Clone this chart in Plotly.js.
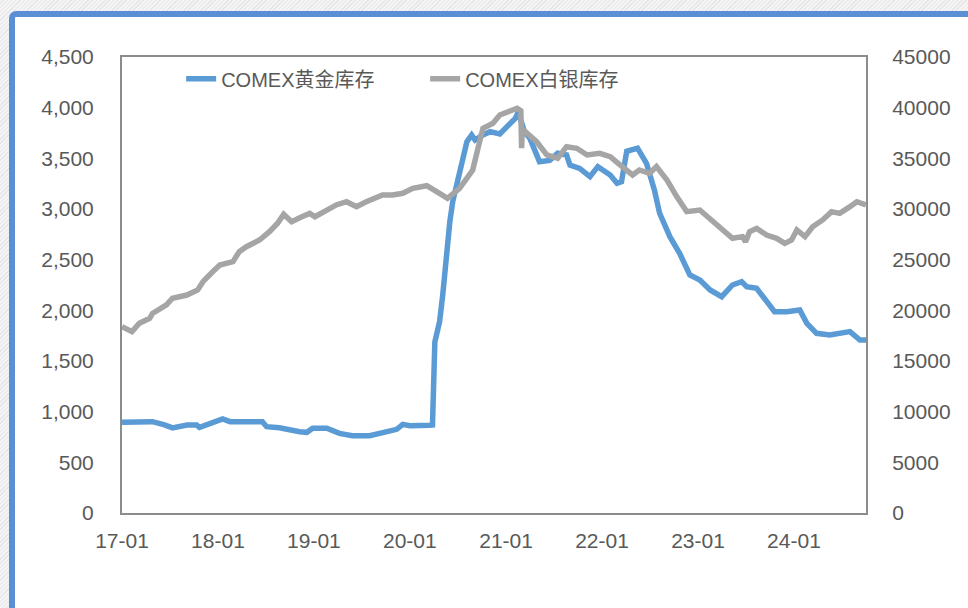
<!DOCTYPE html>
<html>
<head>
<meta charset="utf-8">
<script src="https://cdn.plot.ly/plotly-3.0.1.min.js"></script>
<style>
  html, body { margin:0; padding:0; width:968px; height:608px; overflow:hidden;
    background: repeating-linear-gradient(135deg, #f4f4f4 0px, #f4f4f4 2px, #e6e6e6 2px, #e6e6e6 3px); }
  #bgwhite { position:absolute; left:9px; top:11px; width:1000px; height:700px; background:#ffffff;
    border-left:6px solid #5a8fd6; border-top:6px solid #5a8fd6; border-top-left-radius:7px; box-sizing:border-box; }
  #chart { position:absolute; left:0; top:0; width:968px; height:608px; }
</style>
</head>
<body>
<div id="bgwhite"></div>
<div id="chart"></div>
<script>
// COMEX gold inventory (left axis)
const goldDates = ['2017-01-01','2017-04-27','2017-06-12','2017-07-12','2017-09-05','2017-10-12','2017-10-23','2017-12-01',
 '2018-01-19','2018-02-16','2018-06-19','2018-07-05','2018-08-23','2018-11-08','2018-12-05','2018-12-27',
 '2019-02-19','2019-04-08','2019-05-27','2019-08-01','2019-08-27','2019-10-05','2019-11-12','2019-12-05',
 '2020-01-01','2020-03-16','2020-03-27','2020-04-05','2020-04-23','2020-05-05','2020-05-19','2020-06-01','2020-06-12',
 '2020-07-01','2020-07-19','2020-08-05','2020-08-23','2020-09-05','2020-10-05','2020-11-01','2020-12-08',
 '2021-01-05','2021-02-05','2021-02-16','2021-03-12','2021-04-01','2021-05-08','2021-06-16','2021-07-16','2021-08-19',
 '2021-09-01','2021-10-08','2021-11-16','2021-12-16','2022-02-01','2022-02-27','2022-03-16','2022-04-05','2022-05-16',
 '2022-06-19','2022-07-19','2022-08-08','2022-09-16','2022-10-23','2022-12-01','2023-01-08','2023-02-16','2023-04-01',
 '2023-05-12','2023-06-16','2023-07-05','2023-08-12','2023-09-19','2023-10-19','2023-12-05','2024-01-23','2024-02-19',
 '2024-03-27','2024-05-16','2024-06-23','2024-08-01','2024-09-08','2024-10-01'];
const goldValues = [895,901,870,840,868,868,845,880,
 928,901,901,852,842,802,796,836,
 836,786,762,762,780,809,826,875,
 862,865,868,1690,1888,2151,2546,2875,3072,
 3270,3467,3664,3730,3680,3730,3763,3740,
 3813,3895,3955,3763,3698,3467,3480,3550,3533,
 3434,3401,3319,3418,3335,3254,3270,3570,3600,
 3451,3188,2958,2727,2563,2349,2299,2201,2135,
 2250,2283,2234,2217,2086,1987,1987,2003,1872,
 1773,1757,1767,1790,1707,1707];

// COMEX silver inventory (right axis)
const silverDates = ['2017-01-01','2017-02-08','2017-03-08','2017-04-16','2017-04-27','2017-06-19','2017-07-12','2017-09-05',
 '2017-10-16','2017-11-05','2017-12-12','2018-01-08','2018-02-27','2018-03-23','2018-04-19','2018-06-08','2018-07-16',
 '2018-08-16','2018-09-08','2018-10-08','2018-11-16','2018-12-16','2019-01-05','2019-02-05','2019-03-27','2019-05-05',
 '2019-06-12','2019-07-19','2019-08-27','2019-09-19','2019-10-27','2019-12-05','2020-01-12','2020-03-05','2020-04-12',
 '2020-05-23','2020-07-08','2020-08-05','2020-08-27','2020-09-16','2020-10-05','2020-11-12','2020-12-08','2021-01-16',
 '2021-02-12','2021-02-26','2021-03-01','2021-03-04','2021-04-27','2021-06-05','2021-07-16','2021-08-19','2021-09-27',
 '2021-11-05','2021-12-23','2022-02-01','2022-03-08','2022-04-27','2022-05-23','2022-07-01','2022-07-27','2022-09-05',
 '2022-10-12','2022-11-19','2023-01-08','2023-02-05','2023-03-23','2023-05-12','2023-06-19','2023-07-01','2023-07-16',
 '2023-08-12','2023-09-19','2023-10-27','2023-11-27','2023-12-23','2024-01-12','2024-02-12','2024-03-12','2024-04-19',
 '2024-05-23','2024-06-23','2024-08-01','2024-08-27','2024-10-01'];
const silverValues = [18390,17900,18720,19210,19700,20530,21190,21510,
 22010,22830,23810,24470,24800,25790,26280,26940,27760,
 28600,29480,28750,29240,29570,29240,29740,30400,30720,
 30230,30720,31060,31380,31380,31550,32040,32300,31710,
 31060,32040,33030,33850,35990,37960,38460,39280,39670,
 39940,39700,36000,37900,36640,35330,35000,36150,35990,
 35330,35500,35160,34400,33360,33850,33520,34180,32860,
 31220,29740,29900,29240,28250,27110,27270,26770,27760,
 28090,27430,27110,26610,26940,27930,27270,28250,28920,
 29740,29570,30230,30720,30400];

const tickDates = ['2017-01-01','2018-01-01','2019-01-01','2020-01-01','2021-01-01','2022-01-01','2023-01-01','2024-01-01'];
const tickLabels = ['17-01','18-01','19-01','20-01','21-01','22-01','23-01','24-01'];
const seriesNames = ['COMEX黄金库存','COMEX白银库存'];

const traces = [
  { x: goldDates, y: goldValues, name: seriesNames[0], type: 'scatter', mode: 'lines',
    line: { color: '#5b9bd5', width: 5.5 }, yaxis: 'y' },
  { x: silverDates, y: silverValues, name: seriesNames[1], type: 'scatter', mode: 'lines',
    line: { color: '#a5a5a5', width: 5.5 }, yaxis: 'y2' }
];

const axisFont = { family: 'Liberation Sans, Arial, sans-serif', size: 21, color: '#595959' };
const layout = {
  width: 968, height: 608,
  margin: { l: 122, r: 102, t: 57, b: 95 },
  paper_bgcolor: 'rgba(0,0,0,0)',
  plot_bgcolor: '#ffffff',
  showlegend: true,
  legend: { orientation: 'h', x: 0.0795, y: 0.995, xanchor: 'left', yanchor: 'top',
    font: { family: 'Liberation Sans, Noto Sans CJK SC, sans-serif', size: 20, color: '#595959' },
    bgcolor: 'rgba(0,0,0,0)', entrywidth: 199, entrywidthmode: 'pixels', tracegroupgap: 0 },
  xaxis: { type: 'date', range: ['2017-01-01','2024-10-01'], tickmode: 'array', tickvals: tickDates, ticktext: tickLabels,
    showgrid: false, zeroline: false, showline: true, mirror: true, linecolor: '#8c8c8c', linewidth: 2,
    ticks: '', tickfont: { family: 'Liberation Sans Narrow, Liberation Sans, sans-serif', size: 21, color: '#595959' },
    ticklabelstandoff: 8, fixedrange: true },
  yaxis: { range: [0, 4500], dtick: 500, tick0: 0, tickformat: ',', showgrid: false, zeroline: false,
    showline: true, linecolor: '#8c8c8c', linewidth: 2, ticks: '', tickfont: axisFont, ticklabelstandoff: 22 },
  yaxis2: { range: [0, 45000], dtick: 5000, tick0: 0, tickformat: 'd', overlaying: 'y', side: 'right',
    showgrid: false, zeroline: false, showline: true, linecolor: '#8c8c8c', linewidth: 2, ticks: '',
    tickfont: axisFont, ticklabelstandoff: 20 }
};

Plotly.newPlot('chart', traces, layout, { staticPlot: true, displayModeBar: false });
</script>
</body>
</html>
